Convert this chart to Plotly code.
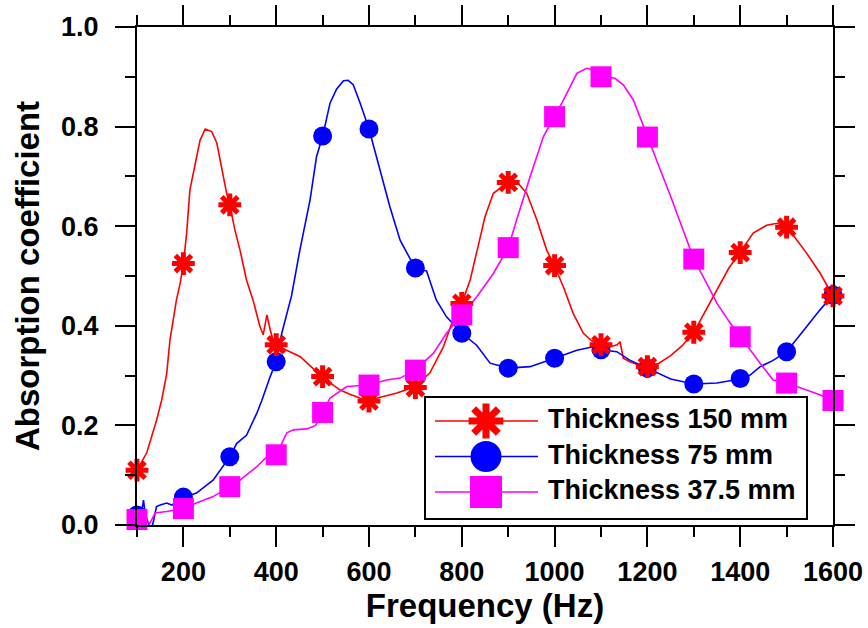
import plotly.graph_objects as go

# ---------------- data ----------------
marker_freq = [100, 200, 300, 400, 500, 600, 700, 800, 900, 1000, 1100, 1200, 1300, 1400, 1500, 1600]

mk_150 = [0.11, 0.525, 0.643, 0.362, 0.298, 0.249, 0.276, 0.445, 0.688, 0.521, 0.362, 0.318, 0.387, 0.547, 0.598, 0.46]
mk_75 = [0.02, 0.056, 0.137, 0.328, 0.781, 0.795, 0.516, 0.385, 0.315, 0.335, 0.352, 0.315, 0.283, 0.294, 0.348, 0.462]
mk_375 = [0.011, 0.033, 0.077, 0.141, 0.226, 0.281, 0.311, 0.422, 0.557, 0.82, 0.9, 0.779, 0.534, 0.378, 0.285, 0.25]

f_150 = [100, 121, 142, 153, 164, 171, 185, 193, 200, 207, 214, 225, 236, 247, 261, 272, 282, 293, 300,
         311, 322, 336, 350, 365, 372, 380, 387, 395, 420, 452, 475, 498, 520, 538, 560, 595, 631, 660,
         695, 731, 760, 781, 800, 818, 835, 850, 868, 897, 918, 940, 962, 983, 999, 1019, 1040, 1062,
         1080, 1098, 1120, 1135, 1141, 1148, 1162, 1180, 1200, 1225, 1250, 1275, 1300, 1325, 1350, 1375,
         1400, 1428, 1457, 1480, 1500, 1520, 1543, 1572, 1600]
a_150 = [0.11, 0.145, 0.21, 0.25, 0.304, 0.371, 0.452, 0.485, 0.525, 0.586, 0.673, 0.727, 0.773, 0.795,
         0.79, 0.767, 0.72, 0.667, 0.643, 0.592, 0.552, 0.492, 0.452, 0.398, 0.382, 0.422, 0.392, 0.365,
         0.352, 0.338, 0.318, 0.298, 0.283, 0.271, 0.262, 0.25, 0.258, 0.265, 0.276, 0.305, 0.357, 0.412,
         0.445, 0.492, 0.559, 0.619, 0.666, 0.686, 0.69, 0.666, 0.612, 0.552, 0.522, 0.478, 0.425, 0.385,
         0.37, 0.362, 0.358, 0.362, 0.368, 0.335, 0.328, 0.322, 0.318, 0.325, 0.34, 0.36, 0.387, 0.43,
         0.475, 0.515, 0.548, 0.586, 0.602, 0.606, 0.598, 0.575, 0.546, 0.506, 0.46]

f_75 = [100, 108, 114, 118, 126, 131, 136, 142, 150, 164, 175, 185, 200, 228, 264, 300, 315, 336, 358,
        369, 387, 400, 412, 433, 451, 473, 487, 500, 516, 530, 545, 555, 566, 581, 600, 624, 645, 667,
        700, 724, 745, 767, 800, 832, 861, 900, 947, 1000, 1048, 1083, 1100, 1134, 1162, 1200, 1250,
        1300, 1350, 1400, 1420, 1443, 1470, 1500, 1515, 1543, 1572, 1600]
a_75 = [0.02, 0.015, 0.05, 0.02, 0.0, -0.01, 0.01, 0.037, 0.04, 0.044, 0.04, 0.047, 0.055, 0.064, 0.09,
        0.137, 0.164, 0.18, 0.224, 0.25, 0.298, 0.328, 0.385, 0.46, 0.552, 0.653, 0.74, 0.78, 0.847,
        0.875, 0.892, 0.893, 0.884, 0.847, 0.795, 0.713, 0.639, 0.572, 0.515, 0.51, 0.452, 0.418, 0.385,
        0.361, 0.325, 0.315, 0.318, 0.335, 0.351, 0.358, 0.352, 0.348, 0.331, 0.315, 0.293, 0.283, 0.285,
        0.293, 0.3, 0.318, 0.33, 0.348, 0.365, 0.398, 0.432, 0.462]

f_375 = [100, 115, 128, 139, 164, 200, 228, 264, 300, 322, 358, 380, 400, 423, 437, 466, 485, 500, 516,
         530, 552, 600, 638, 667, 700, 739, 767, 800, 832, 868, 900, 918, 947, 976, 1000, 1019, 1048,
         1069, 1085, 1100, 1130, 1148, 1170, 1184, 1200, 1225, 1250, 1275, 1300, 1325, 1350, 1375, 1400,
         1421, 1443, 1471, 1500, 1543, 1570, 1600]
a_375 = [0.011, 0.01, 0.004, 0.024, 0.027, 0.033, 0.044, 0.057, 0.077, 0.09, 0.117, 0.137, 0.141, 0.185,
         0.191, 0.193, 0.2, 0.225, 0.255, 0.264, 0.278, 0.281, 0.291, 0.295, 0.311, 0.345, 0.385, 0.422,
         0.458, 0.505, 0.557, 0.612, 0.699, 0.78, 0.82, 0.853, 0.907, 0.917, 0.913, 0.902, 0.897, 0.884,
         0.853, 0.82, 0.78, 0.72, 0.66, 0.595, 0.534, 0.49, 0.445, 0.41, 0.378, 0.351, 0.325, 0.291, 0.285,
         0.271, 0.262, 0.25]

names = ["Thickness 150 mm", "Thickness 75 mm", "Thickness 37.5 mm"]
colors = ["#ff0000", "#0000ff", "#ff00ff"]

# ---------------- styling ----------------
FONT = "Liberation Sans"
W, H = 868, 628
L, R, T, B = 137, 35, 27, 103
STAR = dict(symbol="asterisk", size=19, line=dict(width=5))
CIRC = dict(symbol="circle", size=19, line=dict(width=0))
SQR = dict(symbol="square", size=21, line=dict(width=0))

fig = go.Figure()

curves = [(f_150, a_150), (f_75, a_75), (f_375, a_375)]
for (fx, fy), c, n in zip(curves, colors, names):
    fig.add_trace(go.Scatter(x=fx, y=fy, mode="lines", line=dict(color=c, width=1.6),
                             name=n, showlegend=False, hoverinfo="skip"))

marks = [(mk_75, colors[1], CIRC), (mk_150, colors[0], STAR), (mk_375, colors[2], SQR)]
for vals, c, m in marks:
    md = dict(m)
    md["color"] = c
    md["line"] = dict(m["line"], color=c)
    fig.add_trace(go.Scatter(x=marker_freq, y=vals, mode="markers", marker=md,
                             showlegend=False, cliponaxis=False))

# ---------------- custom legend (pixel coordinates on overlay axes) ----------------
LEG_BOX = (425, 397, 807, 519)
LEG_ROWS = [421, 456.5, 492]
LEG_LINE = (435, 538)
LEG_MK_X = 486
LEG_TEXT_X = 546
leg_markers = [dict(STAR, size=29, line=dict(width=7)), dict(CIRC, size=31), dict(SQR, size=32)]

fig.add_shape(type="rect", xref="x2", yref="y2", x0=LEG_BOX[0], y0=LEG_BOX[1], x1=LEG_BOX[2], y1=LEG_BOX[3],
              line=dict(color="black", width=2), fillcolor="white", layer="below")
for yr, c, n, m in zip(LEG_ROWS, colors, names, leg_markers):
    fig.add_trace(go.Scatter(x=list(LEG_LINE), y=[yr, yr], xaxis="x2", yaxis="y2", mode="lines",
                             line=dict(color=c, width=1.6), showlegend=False, hoverinfo="skip"))
    md = dict(m)
    md["color"] = c
    md["line"] = dict(m["line"], color=c)
    fig.add_trace(go.Scatter(x=[LEG_MK_X], y=[yr], xaxis="x2", yaxis="y2", mode="markers",
                             marker=md, showlegend=False, hoverinfo="skip"))
    fig.add_annotation(x=LEG_TEXT_X, y=yr - 2, xref="x2", yref="y2", text=n, showarrow=False,
                       xanchor="left", yanchor="middle",
                       font=dict(family=FONT, size=27, color="black", weight="bold"))

tickfont = dict(family=FONT, size=27, color="black", weight="bold")
titlefont = dict(family=FONT, size=33, color="black", weight="bold")

axis_common = dict(showline=True, linecolor="black", linewidth=2, mirror="allticks",
                   ticks="outside", ticklen=20, tickwidth=2, tickcolor="black",
                   showgrid=False, zeroline=False, tickfont=tickfont, automargin=False)

fig.update_layout(
    width=W, height=H,
    margin=dict(l=L, r=R, t=T, b=B, autoexpand=False),
    plot_bgcolor="white", paper_bgcolor="white",
    showlegend=False,
    xaxis=dict(range=[100, 1600], tickmode="linear", tick0=200, dtick=200,
               minor=dict(tick0=100, dtick=100, ticklen=10, tickwidth=2, tickcolor="black",
                          ticks="outside", showgrid=False),
               title=dict(text="Frequency (Hz)", font=titlefont, standoff=0),
               ticklabelstandoff=2,
               **axis_common),
    yaxis=dict(range=[0, 1], tickmode="linear", tick0=0, dtick=0.2, tickformat=".1f",
               minor=dict(tick0=0, dtick=0.1, ticklen=10, tickwidth=2, tickcolor="black",
                          ticks="outside", showgrid=False),
               title=dict(text="Absorption coefficient", font=titlefont, standoff=12),
               ticklabelstandoff=11,
               **axis_common),
    xaxis2=dict(overlaying="x", anchor="y2", range=[L, W - R], visible=False, fixedrange=True),
    yaxis2=dict(overlaying="y", anchor="x2", range=[H - B, T], visible=False, fixedrange=True),
)

fig.write_html("out.html")
